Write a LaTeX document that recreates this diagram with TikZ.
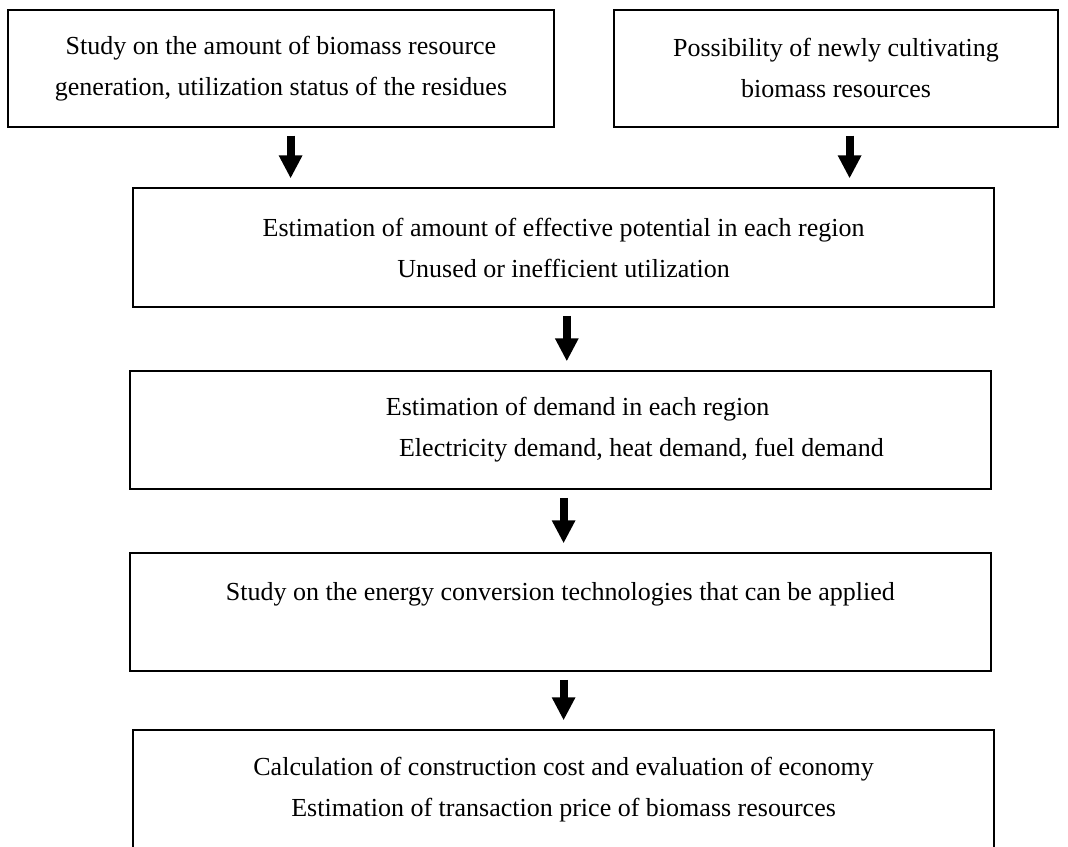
\documentclass[tikz,border=0pt]{standalone}
\usepackage{fontspec}
\setmainfont{Liberation Serif}
\usetikzlibrary{arrows.meta}

\tikzset{
  stage/.style={draw, line width=1.2pt, align=center, inner sep=0pt,
    font=\fontsize{18.5}{29.2}\selectfont},
  flowarrow/.style={line width=0.2cm, -{Triangle[width=0.55cm,length=0.575cm]},
    shorten <=0.2cm, shorten >=0.22cm},
}

\begin{document}
\begin{tikzpicture}
    \useasboundingbox (0,0) rectangle (26.7,21.15);

    % Resources: residues and new cultivation
    \node[stage, minimum width=13.65cm, minimum height=2.925cm] (resid) at (7.025,19.44)
        {Study on the amount of biomass resource\\generation, utilization status of the residues};
    \node[stage, minimum width=11.1cm, minimum height=2.925cm] (cultiv) at (20.9,19.44)
        {Possibility of newly cultivating\\biomass resources};

    % Effective potential
    \node[stage, minimum width=21.525cm, minimum height=2.975cm] (potent) at (14.09,14.96)
        {Estimation of amount of effective potential in each region\\Unused or inefficient utilization};

    % Demand
    \node[stage, minimum width=21.525cm, minimum height=2.95cm] (demand) at (14.01,10.4) {};
    \node[stage, draw=none, align=left, anchor=west] (demandtxt) at ([xshift=6.4cm]demand.west)
        {Estimation of demand in each region\\\hspace*{0.33cm}Electricity demand, heat demand, fuel demand};

    % Conversion technologies
    \node[stage, minimum width=21.525cm, minimum height=2.95cm] (tech) at (14.01,5.85)
        {Study on the energy conversion technologies that can be applied\\\mbox{}};

    % Cost and economy
    \node[stage, minimum width=21.525cm, minimum height=3cm] (econ) at (14.09,1.4)
        {Calculation of construction cost and evaluation of economy\\Estimation of transaction price of biomass resources};

    % Arrows
    \draw[flowarrow] ([xshift=0.24cm]resid.south) -- ([xshift=0.24cm]resid.south |- potent.north);
    \draw[flowarrow] ([xshift=0.34cm]cultiv.south) -- ([xshift=0.34cm]cultiv.south |- potent.north);
    \foreach \a/\b in {potent/demand, demand/tech, tech/econ}
        \draw[flowarrow] ([xshift=0.08cm]\a.south) -- ([xshift=0.08cm]\a.south |- \b.north);
\end{tikzpicture}
\end{document}
